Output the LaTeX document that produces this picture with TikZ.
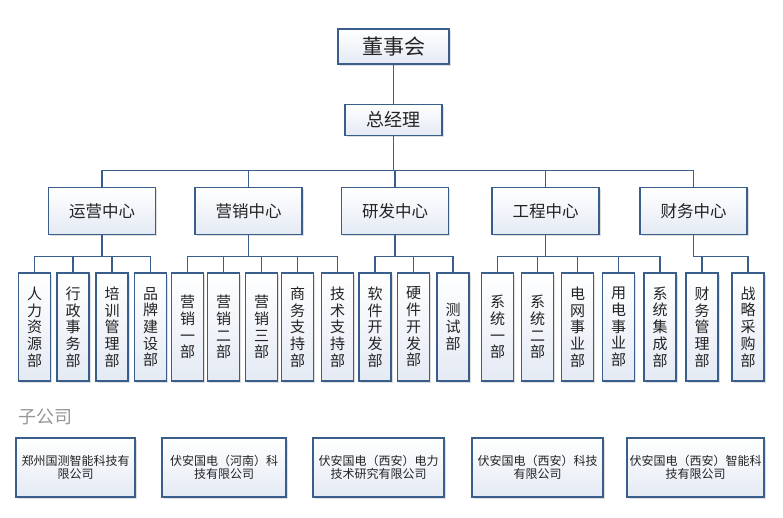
\documentclass[tikz,border=0pt]{standalone}
\usepackage{fontspec}
\setmainfont{Noto Sans CJK SC}
\usetikzlibrary{positioning,shadows}

\definecolor{boxline}{RGB}{58,94,140}
\definecolor{boxbot}{RGB}{228,234,244}
\definecolor{txtc}{RGB}{35,35,35}
\definecolor{subgray}{RGB}{150,150,150}

\tikzset{
  org/.style={draw=boxline, line width=1.2pt, top color=white, bottom color=boxbot,
    inner sep=0pt, text=txtc, align=center,
    drop shadow={shadow xshift=1.5pt, shadow yshift=-1.5pt, fill=black!25}},
  board/.style={org, minimum width=111pt, minimum height=35pt, font=\fontsize{21}{24}\selectfont},
  chief/.style={org, minimum width=97pt, minimum height=31pt, font=\fontsize{18}{20}\selectfont},
  center/.style={org, minimum width=107pt, minimum height=47pt, font=\fontsize{16.5}{19}\selectfont},
  dept/.style={org, minimum width=32pt, minimum height=108pt, font=\fontsize{15}{16.7}\selectfont},
  firm/.style={org, minimum height=59pt, font=\fontsize{12}{13}\selectfont},
  link/.style={draw=boxline, line width=1.2pt},
}

\begin{document}
\begin{tikzpicture}[x=1pt, y=-1pt]
\useasboundingbox (0,0) rectangle (783,517);

\node[board] at (393.5,46.5) (dsh) {董事会};
\node[chief, below=39pt of dsh] (zjl) {总经理};

\node[center] at (102,211) (yy) {运营中心};
\node[center] at (248.5,211) (yx) {营销中心};
\node[center] at (395,211) (yf) {研发中心};
\node[center] at (545.5,211) (gc) {工程中心};
\node[center] at (693.5,211) (cw) {财务中心};

% departments
\node[dept] at (34.5,327) (hr) {人\\力\\资\\源\\部};
\node[dept] at (73,327) (xz) {行\\政\\事\\务\\部};
\node[dept] at (112,327) (px) {培\\训\\管\\理\\部};
\node[dept] at (150.5,327) (pp) {品\\牌\\建\\设\\部};
\node[dept] at (187.5,327) (yx1) {营\\销\\一\\部};
\node[dept] at (223.5,327) (yx2) {营\\销\\二\\部};
\node[dept] at (261.5,327) (yx3) {营\\销\\三\\部};
\node[dept] at (297.5,327) (sw) {商\\务\\支\\持\\部};
\node[dept] at (337.5,327) (js) {技\\术\\支\\持\\部};
\node[dept] at (375,327) (rj) {软\\件\\开\\发\\部};
\node[dept] at (413.5,327) (yj) {硬\\件\\开\\发\\部};
\node[dept] at (453,327) (cs) {测\\试\\部};
\node[dept] at (497.5,327) (xt1) {系\\统\\一\\部};
\node[dept] at (537.5,327) (xt2) {系\\统\\二\\部};
\node[dept] at (577.5,327) (dw) {电\\网\\事\\业\\部};
\node[dept] at (618.5,327) (yd) {用\\电\\事\\业\\部};
\node[dept] at (660,327) (jc) {系\\统\\集\\成\\部};
\node[dept] at (702,327) (cwgl) {财\\务\\管\\理\\部};
\node[dept] at (748,327) (cg) {战\\略\\采\\购\\部};

\draw[link] (dsh) -- (zjl);
\draw[link] (zjl.south) -- ++(0,35) coordinate (bus);
\draw[link] (bus) -| (yy.north);
\draw[link] (bus) -| (yx.north);
\draw[link] (bus) -| (yf.north);
\draw[link] (bus) -| (gc.north);
\draw[link] (bus) -| (cw.north);

\draw[link] (yy.south) -- ++(0,21.5) coordinate (yybus);
\draw[link] (yybus) -| (hr.north);
\draw[link] (yybus) -| (xz.north);
\draw[link] (yybus) -| (px.north);
\draw[link] (yybus) -| (pp.north);

\draw[link] (yx.south) -- ++(0,21.5) coordinate (yxbus);
\draw[link] (yxbus) -| (yx1.north);
\draw[link] (yxbus) -| (yx2.north);
\draw[link] (yxbus) -| (yx3.north);
\draw[link] (yxbus) -| (sw.north);
\draw[link] (yxbus) -| (js.north);

\draw[link] (yf.south) -- ++(0,21.5) coordinate (yfbus);
\draw[link] (yfbus) -| (rj.north);
\draw[link] (yfbus) -| (yj.north);
\draw[link] (yfbus) -| (cs.north);

\draw[link] (gc.south) -- ++(0,21.5) coordinate (gcbus);
\draw[link] (gcbus) -| (xt1.north);
\draw[link] (gcbus) -| (xt2.north);
\draw[link] (gcbus) -| (dw.north);
\draw[link] (gcbus) -| (yd.north);
\draw[link] (gcbus) -| (jc.north);

\draw[link] (cw.south) -- ++(0,21.5) coordinate (cwbus);
\draw[link] (cwbus) -| (cwgl.north);
\draw[link] (cwbus) -| (cg.north);

% subsidiaries
\node[anchor=west, text=subgray, font=\fontsize{18}{20}\selectfont] at (15,416.5) (zgs) {子公司};
\node[firm, minimum width=119pt] at (75.5,467.5) (gc1) {郑州国测智能科技有\\限公司};
\node[firm, minimum width=124pt] at (224,467.5) (gc2) {伏安国电（河南）科\\技有限公司};
\node[firm, minimum width=131pt] at (378.5,467.5) (gc3) {伏安国电（西安）电力\\技术研究有限公司};
\node[firm, minimum width=131pt] at (537.5,467.5) (gc4) {伏安国电（西安）科技\\有限公司};
\node[firm, minimum width=137pt] at (695.5,467.5) (gc5) {伏安国电（西安）智能科\\技有限公司};
\end{tikzpicture}
\end{document}
